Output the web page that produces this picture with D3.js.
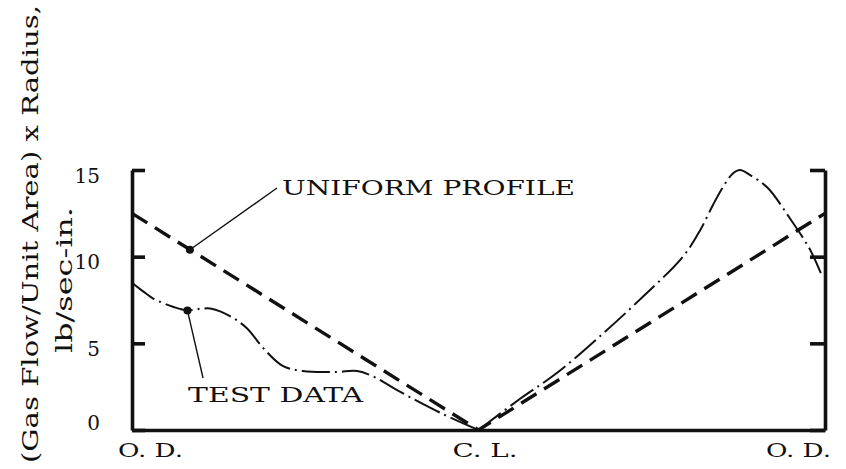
<!DOCTYPE html>
<html lang="en">
<head>
<meta charset="UTF-8">
<title>Gas flow profile</title>
<script src="https://cdn.jsdelivr.net/npm/d3@7"></script>
<style>
  body { margin: 0; background: #fff; }
  text { font-family: "DejaVu Serif", "Liberation Serif", serif; fill: #111; }
</style>
</head>
<body>
<svg width="846" height="469"></svg>
<script>
// radial position: -1 = O.D., 0 = C.L., 1 = O.D.
var uniformR = [-1, 0, 1];
var uniformV = [12.5, 0, 12.5];

// test data, left half and right half (sharp V at C.L.)
var testLeftR = [-1.0, -0.968, -0.94, -0.88, -0.84, -0.80, -0.77, -0.72, -0.67, -0.62, -0.565, -0.507, -0.41, -0.35, -0.30, -0.235, -0.111, 0];
var testLeftV = [8.5, 8.0, 7.6, 7.1, 6.9, 7.0, 7.0, 6.6, 5.9, 4.7, 3.7, 3.4, 3.35, 3.4, 3.05, 2.3, 1.0, 0];
var testRightR = [0, 0.12, 0.227, 0.35, 0.475, 0.59, 0.639, 0.677, 0.705, 0.734, 0.755, 0.784, 0.833, 0.899, 0.957, 0.991];
var testRightV = [0, 1.8, 3.3, 5.4, 7.7, 10.0, 11.5, 13.0, 14.0, 14.8, 15.0, 14.7, 14.0, 12.2, 10.4, 8.9];

var yTicks = [0, 5, 10, 15];
var xTicks = [-1, 0, 1];
var xTickLabels = ["O. D.", "C. L.", "O. D."];

var svg = d3.select("svg");

var x = d3.scaleLinear().domain([-1, 1]).range([132, 825]);
var y = d3.scaleLinear().domain([0, 15]).range([430, 170]);

// left axis, ticks pointing inward
var left = svg.append("g")
    .attr("transform", "translate(" + x(-1) + ",0)")
    .call(d3.axisLeft(y).tickValues(yTicks).tickSizeInner(-13).tickSizeOuter(0).tickPadding(32));
left.select(".domain").attr("stroke", "#111").attr("stroke-width", 3.6);
left.selectAll(".tick line").attr("stroke", "#111").attr("stroke-width", 3.6);
left.selectAll(".tick text")
    .style("font-family", '"DejaVu Serif", serif')
    .style("font-size", "20px")
    .attr("fill", "#111")
    .attr("dy", function(d) { return d == 0 ? "-0.05em" : "0.6em"; });

// right axis, no labels
var right = svg.append("g")
    .attr("transform", "translate(" + x(1) + ",0)")
    .call(d3.axisRight(y).tickValues(yTicks).tickSizeInner(-15).tickSizeOuter(0).tickFormat(""));
right.select(".domain").attr("stroke", "#111").attr("stroke-width", 3.6);
right.selectAll(".tick line").attr("stroke", "#111").attr("stroke-width", 3.6);

// bottom axis
var bottom = svg.append("g")
    .attr("transform", "translate(0," + y(0) + ")")
    .call(d3.axisBottom(x).tickValues(xTicks).tickSize(0).tickPadding(14)
        .tickFormat(function(d, i) { return xTickLabels[i]; }));
bottom.select(".domain").attr("stroke", "#111").attr("stroke-width", 3.6);
bottom.selectAll(".tick text")
    .style("font-family", '"DejaVu Serif", serif')
    .style("font-size", "19px")
    .attr("fill", "#111")
    .attr("dx", function(d, i) { return [18, 6, -27][i]; })
    .attr("textLength", 65)
    .attr("lengthAdjust", "spacingAndGlyphs");

// uniform profile (dashed)
var uniformLine = d3.line()
    .x(function(d, i) { return x(uniformR[i]); })
    .y(function(d) { return y(d); });
svg.append("path")
    .attr("d", uniformLine(uniformV))
    .attr("fill", "none")
    .attr("stroke", "#111")
    .attr("stroke-width", 3.4)
    .attr("stroke-dasharray", "18,9");

// test data (dash-dot)
function testPath(rs, vs) {
    return d3.line()
        .x(function(d, i) { return x(rs[i]); })
        .y(function(d) { return y(d); })
        .curve(d3.curveCatmullRom.alpha(0.5))(vs);
}
[[testLeftR, testLeftV], [testRightR, testRightV]].forEach(function(s) {
    svg.append("path")
        .attr("d", testPath(s[0], s[1]))
        .attr("fill", "none")
        .attr("stroke", "#111")
        .attr("stroke-width", 2)
        .attr("stroke-dasharray", "28,5,2,5");
});

// annotations
var uniformDot = [-0.833, 10.4];
var testDot = [-0.84, 6.9];

svg.append("line")
    .attr("x1", x(uniformDot[0])).attr("y1", y(uniformDot[1]))
    .attr("x2", x(-0.5815)).attr("y2", y(13.96))
    .attr("stroke", "#111").attr("stroke-width", 1.4);
svg.append("line")
    .attr("x1", x(testDot[0])).attr("y1", y(testDot[1]))
    .attr("x2", x(-0.795)).attr("y2", y(3.0))
    .attr("stroke", "#111").attr("stroke-width", 1.4);

svg.selectAll("circle.dot")
    .data([uniformDot, testDot])
    .join("circle")
    .attr("class", "dot")
    .attr("cx", function(d) { return x(d[0]); })
    .attr("cy", function(d) { return y(d[1]); })
    .attr("r", 4)
    .attr("fill", "#111");

svg.append("text")
    .attr("x", 282).attr("y", 195)
    .style("font-size", "20px")
    .attr("textLength", 293).attr("lengthAdjust", "spacingAndGlyphs")
    .text("UNIFORM PROFILE");

svg.append("text")
    .attr("x", 188).attr("y", 402)
    .style("font-size", "20px")
    .attr("textLength", 175).attr("lengthAdjust", "spacingAndGlyphs")
    .text("TEST DATA");

// y title, two lines
svg.append("text")
    .attr("transform", "translate(38,234) rotate(-90)")
    .attr("text-anchor", "middle")
    .style("font-size", "22px")
    .attr("textLength", 458).attr("lengthAdjust", "spacingAndGlyphs")
    .text("(Gas Flow/Unit Area) x Radius,");

svg.append("text")
    .attr("transform", "translate(72,280) rotate(-90)")
    .attr("text-anchor", "middle")
    .style("font-size", "22px")
    .attr("textLength", 146).attr("lengthAdjust", "spacingAndGlyphs")
    .text("lb/sec-in.");
</script>
</body>
</html>
